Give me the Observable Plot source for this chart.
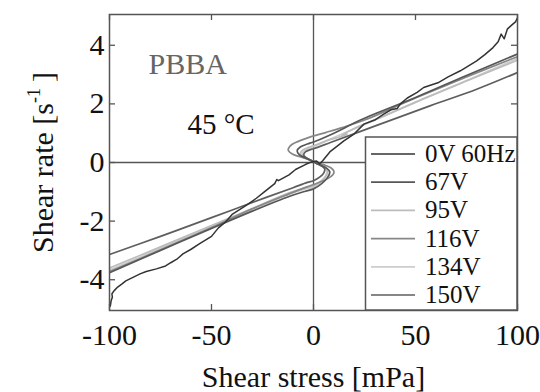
<!DOCTYPE html>
<html><head><meta charset="utf-8">
<script src="https://cdn.jsdelivr.net/npm/d3@7"></script>
<script src="https://cdn.jsdelivr.net/npm/@observablehq/plot@0.6"></script>
<style>html,body{margin:0;padding:0;background:#fff;}</style>
</head><body><div id="chart"></div>
<script>
const seriesNames = ["0V 60Hz", "67V", "95V", "116V", "134V", "150V"];
const seriesColors = ["#333333", "#575757", "#bcbcbc", "#878787", "#cdcdcd", "#5e5e5e"];
const xTicks = [-100, -50, 0, 50, 100];
const yTicks = [-4, -2, 0, 2, 4];

const v0V = [[-99.6,-4.9],[-99.2,-4.72],[-98.6,-4.6],[-98.8,-4.48],[-97.8,-4.38],[-96,-4.25],[-94,-4.15],[-92,-4.04],[-88,-3.9],[-85,-3.8],[-82,-3.72],[-77,-3.63],[-72.5,-3.53],[-70,-3.42],[-67,-3.3],[-64,-3.12],[-60,-2.96],[-56,-2.78],[-50,-2.52],[-46.6,-2.23],[-43,-2.02],[-39.7,-1.76],[-33,-1.46],[-28,-1.22],[-23.5,-0.97],[-19,-0.72],[-18,-0.58],[-17.2,-0.62],[-12,-0.42],[-8.8,-0.24],[-4,-0.07],[-1,0.02],[1.5,0.05],[3,-0.04],[4.5,0.06],[8,0.36],[14.9,0.74],[20,0.98],[24.7,1.31],[30,1.45],[34.4,1.65],[38,1.8],[41,1.84],[42.6,2.0],[46,2.2],[50.8,2.39],[54,2.56],[58,2.65],[61,2.72],[66,2.92],[72,3.13],[76,3.3],[80,3.47],[84,3.68],[88,3.92],[90.5,4.12],[92,4.38],[93.5,4.22],[95,4.55],[97,4.68],[99,4.8],[100,4.94]];
const v67V = [[-100,-3.76],[-75,-3.0],[-50,-2.25],[-30,-1.66],[-12,-1.16],[-4,-0.98],[0,-0.9],[4,-0.72],[7,-0.5],[8,-0.32],[6.5,-0.2],[3,-0.08],[0,0.03],[-4,0.16],[-7,0.27],[-8,0.4],[-6.5,0.53],[-3,0.63],[0,0.7],[10,1.0],[23,1.45],[50,2.22],[75,2.97],[100,3.7]];
const v95V = [[-100,-3.6],[-75,-2.88],[-50,-2.15],[-30,-1.57],[-12,-1.03],[-4,-0.86],[0,-0.8],[4,-0.62],[6.5,-0.42],[7,-0.26],[5.5,-0.15],[2.5,-0.05],[0,0.04],[-3.5,0.14],[-5.8,0.22],[-6.4,0.32],[-5.2,0.43],[-2.5,0.52],[0,0.57],[8,0.78],[12.5,0.86],[16.5,0.97],[14,0.93],[20,1.16],[35,1.6],[50,2.06],[75,2.78],[100,3.49]];
const v116V = [[-100,-3.72],[-75,-2.98],[-50,-2.22],[-30,-1.58],[-12,-1.07],[-3.9,-0.85],[2.6,-0.68],[7,-0.55],[9.5,-0.42],[10,-0.3],[8.5,-0.18],[5.9,-0.1],[1,0.02],[-5.5,0.17],[-10.4,0.29],[-12.4,0.42],[-11.5,0.56],[-8.8,0.68],[-2.5,0.85],[5.9,1.02],[14,1.19],[25,1.45],[50,2.2],[75,2.92],[100,3.61]];
const v134V = [[-100,-3.67],[-75,-2.93],[-50,-2.2],[-30,-1.62],[-12,-1.08],[-4,-0.9],[0,-0.84],[3.5,-0.66],[6,-0.45],[6.5,-0.27],[5,-0.16],[2,-0.06],[0,0.03],[-3,0.13],[-5,0.2],[-5.6,0.3],[-4.5,0.4],[-2,0.49],[0,0.54],[10,0.85],[25,1.3],[50,2.05],[75,2.8],[100,3.55]];
const v150V = [[-100,-3.14],[-75,-2.52],[-50,-1.88],[-23.5,-1.2],[-10,-0.86],[-3,-0.68],[0,-0.62],[3,-0.5],[5,-0.36],[5.5,-0.22],[4,-0.12],[1.5,-0.03],[0,0.03],[-2.5,0.12],[-4.3,0.2],[-4.8,0.28],[-3.8,0.37],[-1.5,0.44],[0,0.47],[8.3,0.68],[30,1.24],[57.4,1.94],[80,2.5],[100,3.07]];

// drawing order: light first, dark last
const smoothSeries = [[4, v134V], [2, v95V], [3, v116V], [5, v150V], [1, v67V]];
const smoothRows = [];
smoothSeries.forEach(([i, arr]) => arr.forEach(([x, y]) => smoothRows.push({series: seriesNames[i], x, y})));
const rows0V = v0V.map(([x, y]) => ({series: seriesNames[0], x, y}));

const W = 540, H = 392, mL = 109, mR = 23, mT = 14, mB = 82;
const plotH = H - mT - mB, plotW = W - mL - mR, tickLen = 6;
const serif = "Liberation Serif, Times New Roman, serif";

const svgNode = Plot.plot({
  width: W, height: H,
  marginLeft: mL, marginRight: mR, marginTop: mT, marginBottom: mB,
  style: {fontFamily: serif, fontSize: "30px", color: "#111", background: "#fff"},
  x: {domain: [-100, 100]},
  y: {domain: [-5.05, 5.05]},
  color: {domain: seriesNames, range: seriesColors},
  marks: [
    Plot.axisX(xTicks, {tickSize: 0, tickPadding: 13, tickFormat: d => String(d), label: null, fontFamily: serif, fontSize: 30, fill: "#111"}),
    Plot.axisY(yTicks, {tickSize: 0, tickPadding: 5, tickFormat: d => String(d), label: null, fontFamily: serif, fontSize: 30, fill: "#111"}),
    Plot.ruleX([0], {stroke: "#555", strokeWidth: 1.3}),
    Plot.ruleY([0], {stroke: "#555", strokeWidth: 1.3}),
    Plot.tickX(xTicks, {x: d => d, insetTop: plotH - tickLen, stroke: "#555", strokeWidth: 1.3}),
    Plot.tickX(xTicks, {x: d => d, insetBottom: plotH - tickLen, stroke: "#555", strokeWidth: 1.3}),
    Plot.tickY(yTicks, {y: d => d, insetRight: plotW - tickLen, stroke: "#555", strokeWidth: 1.3}),
    Plot.tickY(yTicks, {y: d => d, insetLeft: plotW - tickLen, stroke: "#555", strokeWidth: 1.3}),
    Plot.line(smoothRows, {x: "x", y: "y", z: "series", stroke: "series", strokeWidth: 1.7, curve: "catmull-rom", clip: true}),
    Plot.line(rows0V, {x: "x", y: "y", z: "series", stroke: "series", strokeWidth: 1.5, curve: "linear", clip: true}),
    Plot.frame({stroke: "#555", strokeWidth: 1.5}),
    Plot.text(["PBBA"], {frameAnchor: "top-left", dx: 39, dy: 59, lineAnchor: "bottom", textAnchor: "start", fill: "#666", fontSize: 30, fontFamily: serif}),
    Plot.text(["45 \u00B0C"], {frameAnchor: "top-left", dx: 78, dy: 119, lineAnchor: "bottom", textAnchor: "start", fill: "#111", fontSize: 29, fontFamily: serif}),
    Plot.text(["Shear stress [mPa]"], {frameAnchor: "bottom", dy: 76, lineAnchor: "bottom", textAnchor: "middle", fill: "#111", fontSize: 30, fontFamily: serif}),
    Plot.text(["Shear rate [s]"], {frameAnchor: "left", dx: -57, rotate: -90, lineAnchor: "bottom", textAnchor: "middle", fill: "#111", fontSize: 30, fontFamily: serif})
  ]
});

const svg = d3.select(svgNode);
// superscript on y title
svg.selectAll("text").filter(function() { return this.textContent === "Shear rate [s]"; }).each(function() {
  const t = d3.select(this);
  t.text("");
  t.append("tspan").text("Shear rate [s");
  t.append("tspan").attr("dy", -13).attr("font-size", 18).text("-1");
  t.append("tspan").attr("dy", 13).text("\u2009]");
});

// legend box
const lg = svg.append("g").attr("font-family", serif).attr("text-anchor", "start");
lg.append("rect").attr("x", 365.5).attr("y", 137).attr("width", W - mR - 365.5).attr("height", H - mB - 137)
  .attr("fill", "#fff").attr("stroke", "#555").attr("stroke-width", 1.5);
seriesNames.forEach((name, i) => {
  const cy = 154 + i * 28.2;
  lg.append("line").attr("x1", 371).attr("x2", 415).attr("y1", cy).attr("y2", cy)
    .attr("stroke", seriesColors[i]).attr("stroke-width", 1.7);
  lg.append("text").attr("x", 425).attr("y", cy + 8).attr("font-size", 25).attr("fill", "#111")
    .attr("text-anchor", "start").text(name);
});

document.getElementById("chart").appendChild(svgNode);
</script>
</body></html>
